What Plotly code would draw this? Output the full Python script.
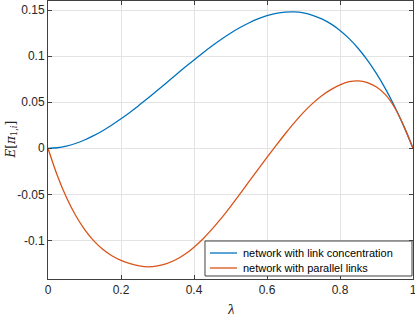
import plotly.graph_objects as go

lam = [0.0, 0.025, 0.05, 0.075, 0.1, 0.125, 0.15, 0.175, 0.2, 0.225, 0.25, 0.275, 0.3,
       0.325, 0.35, 0.375, 0.4, 0.425, 0.45, 0.475, 0.5, 0.525, 0.55, 0.575, 0.6, 0.625,
       0.65, 0.675, 0.7, 0.725, 0.75, 0.775, 0.8, 0.825, 0.85, 0.875, 0.9, 0.925, 0.95,
       0.975, 1.0]

link_concentration = [0.0, 0.0006, 0.0024, 0.0052, 0.009, 0.0137, 0.0191, 0.0253, 0.032,
                      0.0392, 0.0469, 0.0548, 0.063, 0.0713, 0.0796, 0.0879, 0.096, 0.1039,
                      0.1114, 0.1185, 0.125, 0.1309, 0.1361, 0.1405, 0.144, 0.1465, 0.1479,
                      0.1481, 0.147, 0.1445, 0.1406, 0.1351, 0.128, 0.1191, 0.1084, 0.0957,
                      0.081, 0.0642, 0.0451, 0.0238, 0.0]

parallel_links = [0.0, -0.0290, -0.0530, -0.0725, -0.0880, -0.1003, -0.1098, -0.1168, -0.1218,
                  -0.1254, -0.1277, -0.1288, -0.1278, -0.1253, -0.1211, -0.1151, -0.1074,
                  -0.0982, -0.0876, -0.0759, -0.0633, -0.0501, -0.0366, -0.0231, -0.0099,
                  0.0031, 0.0158, 0.0279, 0.0390, 0.0488, 0.0571, 0.0637, 0.0689, 0.0723,
                  0.0733, 0.0714, 0.0665, 0.0580, 0.0440, 0.0238, 0.0]

names = ["network with link concentration", "network with parallel links"]
colors = ["#0072BD", "#D95319"]

x_ticks = [0, 0.2, 0.4, 0.6, 0.8, 1]
x_ticklabels = ["0", "0.2", "0.4", "0.6", "0.8", "1"]
y_ticks = [-0.1, -0.05, 0, 0.05, 0.1, 0.15]
y_ticklabels = ["-0.1", "-0.05", "0", "0.05", "0.1", "0.15"]

fig = go.Figure()
for ys, nm, c in zip([link_concentration, parallel_links], names, colors):
    fig.add_trace(go.Scatter(x=lam, y=ys, mode="lines", name=nm, showlegend=False,
                             line=dict(color=c, width=1.3, shape="spline")))

axis_common = dict(showgrid=True, gridcolor="#e3e3e3", gridwidth=1,
                   showline=True, linecolor="#404040", linewidth=1, mirror="ticks",
                   ticks="inside", ticklen=4, tickcolor="#404040", zeroline=False,
                   automargin=False, ticklabeloverflow="allow",
                   tickfont=dict(family="Liberation Sans", size=12, color="#262626"))

fig.update_xaxes(range=[0, 1], tickvals=x_ticks, ticktext=x_ticklabels, **axis_common)
fig.update_yaxes(range=[-0.142, 0.160], tickvals=y_ticks, ticktext=y_ticklabels, **axis_common)

fig.add_annotation(text="<i>λ</i>", xref="paper", yref="paper", x=0.5, y=-0.075,
                   xanchor="center", yanchor="top", showarrow=False,
                   font=dict(family="DejaVu Serif", size=14, color="#262626"))
fig.add_annotation(text="<i>E</i>[<i>π</i><sub>1,<i>i</i></sub>]", xref="paper", yref="paper",
                   x=-0.1, y=0.5, xanchor="center", yanchor="middle", textangle=-90,
                   showarrow=False,
                   font=dict(family="DejaVu Serif", size=12, color="#262626"))

# legend box (MATLAB-style), placed in paper coordinates
fig.add_shape(type="rect", xref="paper", yref="paper", x0=0.4301, x1=0.9973, y0=0.0108, y1=0.1367,
              line=dict(color="#404040", width=1), fillcolor="white", layer="above")
for nm, c, yy in zip(names, colors, [0.0935, 0.0396]):
    fig.add_shape(type="line", xref="paper", yref="paper", x0=0.4438, x1=0.5178, y0=yy, y1=yy,
                  line=dict(color=c, width=1.3), layer="above")
    fig.add_annotation(text=nm, xref="paper", yref="paper", x=0.5288, y=yy,
                       xanchor="left", yanchor="middle", showarrow=False,
                       font=dict(family="Liberation Sans", size=11, color="#000000"))

fig.update_layout(
    width=415, height=314,
    margin=dict(l=48, r=2, t=1, b=35),
    plot_bgcolor="white", paper_bgcolor="white",
    showlegend=False,
)

fig.write_html("out.html", config={"displayModeBar": False},
               post_script="document.body.style.margin='0';document.body.style.overflow='hidden';")
